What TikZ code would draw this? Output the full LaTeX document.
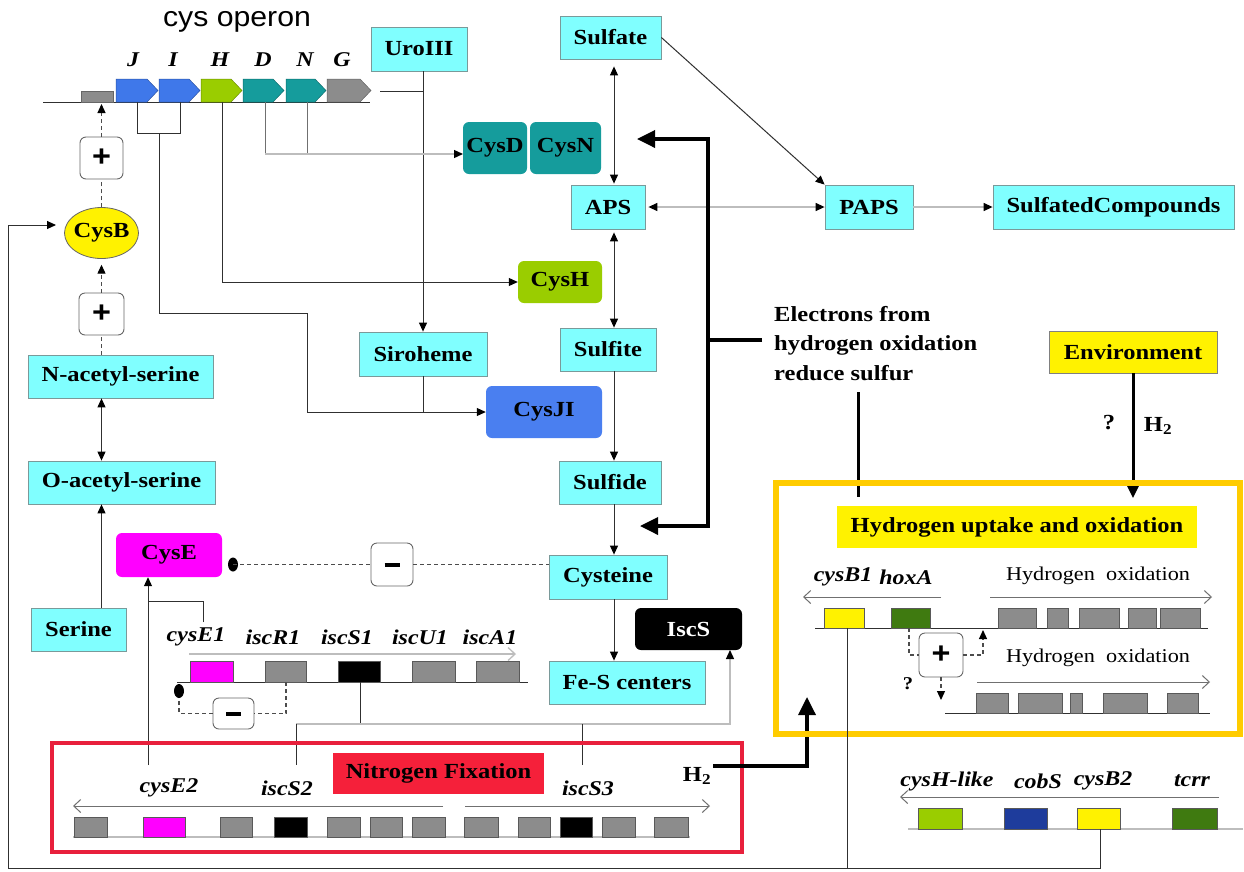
\documentclass[tikz,border=0pt]{standalone}
\usepackage{fontspec}
\setmainfont{Liberation Serif}[FakeStretch=1.14]
\newfontfamily\opsans{Liberation Sans}[FakeStretch=1.08]
\usetikzlibrary{arrows.meta,shapes.geometric}
\definecolor{boxcyan}{HTML}{80FFFF}
\definecolor{cyanedge}{HTML}{7A9A9A}
\definecolor{teal1}{HTML}{159C9C}
\definecolor{ygreen}{HTML}{9ACD00}
\definecolor{cjblue}{HTML}{4A7FF0}
\definecolor{genblue}{HTML}{3F78EA}
\definecolor{mag}{HTML}{FF00FF}
\definecolor{ggray}{HTML}{8C8C8C}
\definecolor{dgreen}{HTML}{3F7A10}
\definecolor{dblue}{HTML}{1E3C9C}
\definecolor{nfred}{HTML}{F5203A}
\definecolor{boxred}{HTML}{E8203C}
\definecolor{gold}{HTML}{FFCC00}
\definecolor{lgray}{HTML}{BDBDBD}
\definecolor{lnc}{HTML}{303030}
\definecolor{midg}{HTML}{707070}
\newcommand\gb[5]{\filldraw[fill=#5,draw=black!65,line width=0.7pt] (#1,#2) rectangle (#3,#4);}
\newcommand\genearr[3]{\filldraw[fill=#3,draw=#3!70!black,line width=0.5pt] (#1,79) -- ({#2-11},79) -- (#2,90.5) -- ({#2-11},102) -- (#1,102) -- cycle;}
\tikzset{
  lbl/.style={font=\bfseries\fontsize{21.5}{26}\selectfont},
  glbl/.style={font=\bfseries\itshape\fontsize{21}{24}\selectfont, inner sep=0pt},
  sml/.style={font=\fontsize{19.5}{22}\selectfont, inner sep=0pt},
  sz/.style 2 args={minimum width=#1pt, minimum height=#2pt},
  cbox/.style={draw=cyanedge, fill=boxcyan, lbl, inner sep=0pt, line width=0.8pt},
  rbox/.style={rounded corners=6pt, inner sep=0pt, lbl, draw=none},
  pm/.style={draw=gray!80!black, fill=white, rounded corners=6pt, inner sep=0pt, line width=0.9pt,
     font=\opsans\bfseries\fontsize{30}{30}\selectfont},
  ln/.style={draw=lnc, line width=1pt},
  lg/.style={draw=lgray, line width=1.3pt},
  og/.style={draw=midg, line width=1pt},
  dsh/.style={draw=gray!60!black, line width=1.2pt, dash pattern=on 4pt off 3pt},
  tip/.style={-{Triangle[length=9pt,width=8pt,color=black]}},
  tipb/.style={{Triangle[length=9pt,width=8pt,color=black]}-{Triangle[length=9pt,width=8pt,color=black]}},
  opn/.style={-{Straight Barb[length=7pt,width=13pt]}},
  big/.style={draw=black, line width=3.5pt},
  bigtip/.style={-{Triangle[length=18pt,width=17pt]}},
}
\begin{document}
\begin{tikzpicture}[x=1pt,y=-1pt]
\useasboundingbox[fill=white] (0,0) rectangle (1244,871);

% ---------------- cys operon -----------------
\node[font=\opsans\fontsize{28}{32}\selectfont, inner sep=0pt] (title) at (237,22) {cys operon};
\node[glbl] (gJ) at (133,60) {J};
\node[glbl] (gI) at (173,60) {I};
\node[glbl] (gH) at (220,60) {H};
\node[glbl] (gD) at (263,60) {D};
\node[glbl] (gN) at (305,60) {N};
\node[glbl] (gG) at (342,60) {G};
\draw[ln] (43,102) -- (370,102);
\node[fill=ggray, draw=black!60, inner sep=0pt, sz={32}{11}] (prom) at (97,96.5) {};
\genearr{116}{158}{genblue}
\genearr{159}{200}{genblue}
\genearr{201}{242}{ygreen}
\genearr{243}{284}{teal1}
\genearr{286}{326}{teal1}
\genearr{327}{371}{ggray}
\coordinate (promin) at (101.5,104);
\coordinate (urob) at (423,71);
\coordinate (cdin) at (463,154);
\coordinate (vx) at (614,0);

% ---------------- boxes -----------------
\node[cbox,sz={96}{44}] (uro) at (419,49) {UroIII};
\node[cbox,sz={101}{43}] (sulfate) at (610.5,37.5) {Sulfate};
\node[cbox,sz={74}{44}] (aps) at (608,207) {APS};
\node[cbox,sz={88}{44}] (paps) at (869,207) {PAPS};
\node[cbox,sz={241}{44}] (sc) at (1113.5,207) {SulfatedCompounds};
\node[rbox,fill=teal1,sz={64}{52}] (cysd) at (495,148) {CysD};
\node[rbox,fill=teal1,sz={71}{52}] (cysn) at (565.5,148) {CysN};
\node[rbox,fill=ygreen,sz={84}{42}] (cysh) at (560,282) {CysH};
\node[cbox,sz={128}{44}] (siro) at (423,354) {Siroheme};
\node[cbox,sz={96}{43}] (sulfite) at (608,349.5) {Sulfite};
\node[rbox,fill=cjblue,sz={116}{52}] (cysji) at (544,412) {CysJI};
\node[cbox,sz={102}{43}] (sulfide) at (610,482.5) {Sulfide};
\node[cbox,sz={118}{44}] (cys) at (608,577) {Cysteine};
\node[cbox,sz={156}{43}] (fes) at (627,682.5) {Fe-S centers};
\node[rbox,fill=black,text=white,sz={107}{42}] (iscs) at (688.5,629) {IscS};
\filldraw[fill=yellow, draw=gray!80!black, line width=0.8pt] (101.5,233) ellipse [x radius=37, y radius=25.5];
\node[lbl,inner sep=0pt,sz={74}{51}] (cysb) at (101.5,233) {CysB};
\node[cbox,sz={185}{43}] (nac) at (120.5,376.5) {N-acetyl-serine};
\node[cbox,sz={187}{43}] (oac) at (121.5,482.5) {O-acetyl-serine};
\node[cbox,sz={95}{43}] (ser) at (78.5,629.5) {Serine};
\node[rbox,fill=mag,sz={106}{44}] (cyse) at (169,555) {CysE};
\node[draw=gray,fill=yellow,lbl,inner sep=0pt,sz={168}{42}] (env) at (1133,352) {Environment};

\node[pm,sz={43}{42}] (p1) at (101.5,158) {+};
\node[pm,sz={45}{42}] (p2) at (101.5,314) {+};
\node[pm,sz={42}{43}] (m1) at (392,564.5) {\rule{15pt}{4pt}};

% ---------------- operon connectors -----------------
\draw[ln] (380,91) -- (423,91);
\draw[ln,tip] (urob) -- (siro.north);
\draw[ln] (siro.south) -- (423,412);
\draw[ln] (137,102) -- (137,133) -- (180,133) -- (180,102);
\draw[ln,tip] (159,133) -- (159,313) -- (307,313) -- (307,412) -- (cysji.west);
\draw[ln,tip] (222,102) -- (222,282) -- (cysh.west);
\draw[og] (265,102) -- (265,154);
\draw[og] (307,102) -- (307,154);
\draw[lg,tip] (265,154) -- (cdin);

% ---------------- sulfur pathway -----------------
\draw[ln,tip] (sulfate.east) -- (paps.north west);
\draw[ln,tipb,shorten <=7pt,shorten >=1pt] (vx |- sulfate.south) -- (vx |- aps.north);
\draw[ln,tipb,shorten <=3pt] (vx |- aps.south) -- (vx |- sulfite.north);
\draw[lg,tipb,shorten <=3pt] (aps.east) -- (paps.west);
\draw[lg,tip] (paps.east) -- (sc.west);
\draw[ln,tip] (vx |- sulfite.south) -- (vx |- sulfide.north);
\draw[ln,tip] (vx |- sulfide.south) -- (vx |- cys.north);
\draw[ln,tip] (vx |- cys.south) -- (vx |- fes.north);

% electrons thick bracket
\coordinate (e1) at (637,139);
\coordinate (e2) at (640,526);
\coordinate (ej) at (762,340);
\draw[big,{Triangle[length=18pt,width=17pt]}-{Triangle[length=18pt,width=17pt]}] (e1) -- (708,139) -- (708,526) -- (e2);
\draw[big] (ej) -- (708,340);
\node[font=\bfseries\fontsize{21.5}{29.5}\selectfont, align=left, anchor=north west, inner sep=0pt] (elec) at (774,306) {Electrons from\\hydrogen oxidation\\reduce sulfur};
\coordinate (el1) at (858,392);
\coordinate (el2) at (858,497);
\draw[big,line width=3pt] (el1) -- (el2);

% environment
\coordinate (envtip) at (1133,498);
\draw[big,bigtip,line width=3pt] (env.south) -- (envtip);
\node[lbl,inner sep=0pt] (q1) at (1109,423) {?};
\node[lbl,inner sep=0pt] (h2a) at (1158,426) {H\textsubscript{2}};

% ---------------- CysB regulation -----------------
\draw[dsh] (cysb.north) -- (p1.south);
\draw[dsh,tip] (p1.north) -- (promin);
\draw[dsh] (nac.north -| p2) -- (p2.south);
\draw[dsh,tip,shorten >=6pt] (p2.north) -- (cysb.south);
\draw[ln,tipb] (p2 |- nac.south) -- (p2 |- oac.north);
\draw[ln,tip] (p2 |- ser.north) -- (p2 |- oac.south);

% CysE inhibition by cysteine
\coordinate (dot1) at (233,564.5);
\fill (dot1) ellipse [x radius=5, y radius=7];
\draw[dsh] (dot1) -- (m1.west);
\draw[dsh] (m1.east) -- (m1 -| cys.west);

% cysE genes to CysE
\coordinate (e2t) at (148,765);
\draw[ln,tip] (e2t) -- (e2t |- cyse.south);
\draw[ln] (203,622) -- (203,601) -- (148,601);

% ---------------- operon 1 (isc) -----------------
\node[glbl] (lE1) at (196,637) {cysE1};
\node[glbl] (lR1) at (273,637) {iscR1};
\node[glbl] (lS1) at (347,637) {iscS1};
\node[glbl] (lU1) at (420,637) {iscU1};
\node[glbl] (lA1) at (490,637) {iscA1};
\draw[lg,opn] (189,654) -- (516,654);
\draw[ln] (177,682) -- (528,682);
\gb{190}{661}{233}{682}{mag}
\gb{265}{661}{306}{682}{ggray}
\gb{338}{661}{380}{682}{black}
\gb{412}{661}{455}{682}{ggray}
\gb{476}{661}{519}{682}{ggray}
\node[pm,sz={41}{31}] (m2) at (233.5,713.5) {\rule{15pt}{4pt}};
\draw[dsh] (286,682) -- (286,713.5) -- (m2.east);
\draw[dsh] (m2.west) -- (179,713.5) -- (179,695);
\fill (179,691) ellipse [x radius=5, y radius=7];
\coordinate (iscsin) at (730,650);
\draw[ln] (360,682) -- (360,724);
\draw[lg,tip] (296,724) -- (730,724) -- (iscsin);
\draw[ln] (296,724) -- (296,765);
\draw[ln] (582,724) -- (582,765);

% ---------------- nitrogen fixation box -----------------
\draw[boxred, line width=4pt] (52,743) rectangle (742,852);
\node[fill=nfred,lbl,inner sep=0pt,sz={211}{41}] (nf) at (438.5,773.5) {Nitrogen Fixation};
\node[glbl] (lE2) at (169,788) {cysE2};
\node[glbl] (lS2) at (287,788) {iscS2};
\node[glbl] (lS3) at (588,788) {iscS3};
\node[lbl,inner sep=0pt] (h2b) at (697,776) {H\textsubscript{2}};
\draw[og,opn] (443,806) -- (73,806);
\draw[og,opn] (465,806) -- (710,806);
\draw[lg] (73,837) -- (690,837);
\gb{74}{817}{107}{837}{ggray}
\gb{143}{817}{185}{837}{mag}
\gb{220}{817}{252}{837}{ggray}
\gb{274}{817}{307}{837}{black}
\gb{327}{817}{360}{837}{ggray}
\gb{370}{817}{402}{837}{ggray}
\gb{412}{817}{445}{837}{ggray}
\gb{464}{817}{498}{837}{ggray}
\gb{518}{817}{550}{837}{ggray}
\gb{560}{817}{592}{837}{black}
\gb{602}{817}{635}{837}{ggray}
\gb{654}{817}{688}{837}{ggray}

% H2 thick arrow
\coordinate (h2s) at (713,766);
\coordinate (h2t) at (807,697);
\draw[big,bigtip] (h2s) -- (807,766) -- (h2t);

% ---------------- hydrogen box -----------------
\draw[gold, line width=6pt] (776,483) rectangle (1240,734);
\node[fill=yellow,lbl,inner sep=0pt,sz={360}{42}] (huo) at (1017,527) {Hydrogen uptake and oxidation};
\node[glbl] (lB1) at (843,577) {cysB1};
\node[glbl] (lhx) at (906,577) {hoxA};
\node[sml] (ho1) at (1098,576) {Hydrogen\ \ oxidation};
\node[sml] (ho2) at (1098,658) {Hydrogen\ \ oxidation};
\draw[og,opn] (941,597) -- (803,597);
\draw[og,opn] (990,597) -- (1212,597);
\draw[ln] (815,628) -- (1208,628);
\gb{824}{608}{864}{628}{yellow}
\gb{891}{608}{930}{628}{dgreen}
\gb{998}{608}{1036}{628}{ggray}
\gb{1047}{608}{1068}{628}{ggray}
\gb{1079}{608}{1119}{628}{ggray}
\gb{1128}{608}{1156}{628}{ggray}
\gb{1160}{608}{1200}{628}{ggray}
\draw[og,opn] (977,682) -- (1210,682);
\draw[ln] (945,713) -- (1210,713);
\gb{976}{693}{1008}{713}{ggray}
\gb{1018}{693}{1062}{713}{ggray}
\gb{1070}{693}{1082}{713}{ggray}
\gb{1103}{693}{1147}{713}{ggray}
\gb{1167}{693}{1198}{713}{ggray}
\node[pm,sz={44}{44}] (p3) at (941,655) {+};
\coordinate (hx) at (909,628);
\coordinate (hup) at (983,630);
\coordinate (hdn) at (941,700);
\draw[dsh] (hx) -- (909,655) -- (p3.west);
\draw[dsh,tip] (p3.east) -- (983,655) -- (hup);
\draw[dsh,tip] (p3.south) -- (hdn);
\node[font=\bfseries\fontsize{18}{20}\selectfont, inner sep=0pt] (q2) at (908,684) {?};

% ---------------- bottom-right operon -----------------
\node[glbl] (lHl) at (947,781) {cysH-like};
\node[glbl] (lcob) at (1038,781) {cobS};
\node[glbl] (lB2) at (1103,781) {cysB2};
\node[glbl] (ltc) at (1192,781) {tcrr};
\draw[og,opn] (1219,797) -- (900,797);
\draw[lg] (908,829) -- (1243,829);
\gb{918}{808}{962}{829}{ygreen}
\gb{1004}{808}{1047}{829}{dblue}
\gb{1077}{808}{1120}{829}{yellow}
\gb{1172}{808}{1217}{829}{dgreen}

% ---------------- CysB feedback loop -----------------
\coordinate (b1top) at (847,628);
\coordinate (b2top) at (1100,829);
\coordinate (cbin) at (56,225);
\draw[ln,tip] (b1top) -- (847,868) -- (8,868) -- (8,225) -- (cbin);
\draw[ln] (b2top) -- (1100,868) -- (847,868);
\end{tikzpicture}
\end{document}
